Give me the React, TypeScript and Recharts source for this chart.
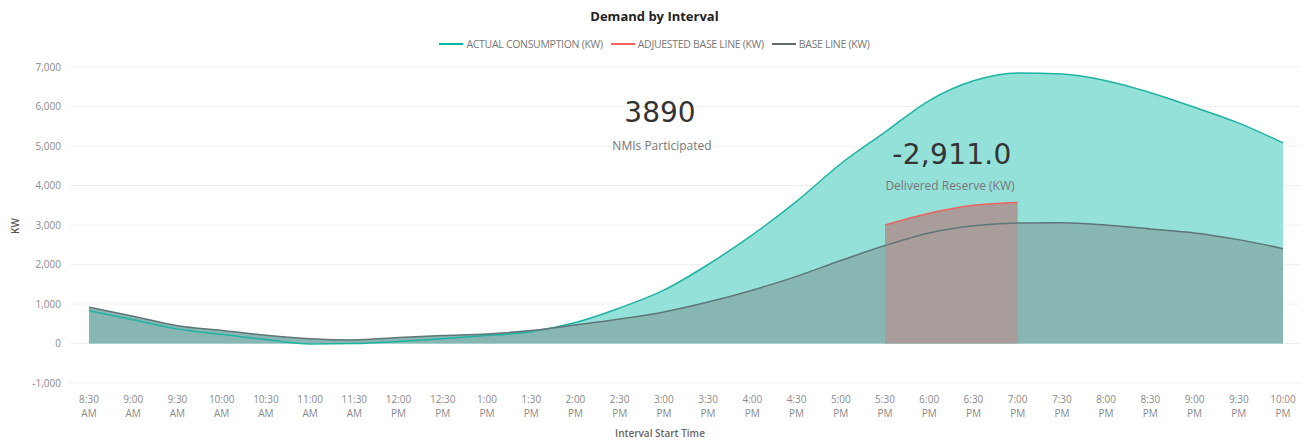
import React from 'react';
import { ComposedChart, Area, Line, XAxis, YAxis, CartesianGrid } from 'recharts';

const times = ['8:30 AM','9:00 AM','9:30 AM','10:00 AM','10:30 AM','11:00 AM','11:30 AM','12:00 PM','12:30 PM','1:00 PM','1:30 PM','2:00 PM','2:30 PM','3:00 PM','3:30 PM','4:00 PM','4:30 PM','5:00 PM','5:30 PM','6:00 PM','6:30 PM','7:00 PM','7:30 PM','8:00 PM','8:30 PM','9:00 PM','9:30 PM','10:00 PM'];
const actual = [830, 600, 370, 230, 100, -10, 0, 50, 120, 200, 300, 530, 900, 1350, 2000, 2750, 3600, 4550, 5350, 6150, 6650, 6850, 6820, 6650, 6350, 5980, 5580, 5080];
const baseLine = [920, 690, 450, 330, 210, 120, 90, 150, 200, 240, 330, 470, 620, 800, 1050, 1350, 1700, 2100, 2480, 2800, 2980, 3050, 3060, 3000, 2900, 2800, 2630, 2400];
const adjusted: (number | null)[] = [null, null, null, null, null, null, null, null, null, null, null, null, null, null, null, null, null, null, 3000, 3300, 3500, 3570, null, null, null, null, null, null];
const yTicks = [-1000, 0, 1000, 2000, 3000, 4000, 5000, 6000, 7000];

const data = times.map((t, i) => ({ t, actual: actual[i], base: baseLine[i], adj: adjusted[i] }));

const FONT = '"Open Sans", "Noto Sans", sans-serif';

const XTick = (props: any) => {
  const { x, y, payload } = props;
  const parts = String(payload.value).split(' ');
  return (
    <g>
      <text x={x} y={y + 12} textAnchor="middle" fontSize={10} fill="#8a8a8a" fontFamily={FONT}>{parts[0]}</text>
      <text x={x} y={y + 26} textAnchor="middle" fontSize={10} fill="#8a8a8a" fontFamily={FONT}>{parts[1]}</text>
    </g>
  );
};

const fmt = (v: number) => v.toLocaleString('en-US');

export default function App() {
  return (
    <div style={{ position: 'absolute', left: 0, top: 0, width: 1309, height: 443, background: '#fff', fontFamily: FONT }}>
      <div style={{ position: 'absolute', left: 0, width: 1309, top: 7, textAlign: 'center', fontSize: 13, fontWeight: 700, color: '#222' }}>Demand by Interval</div>
      <div style={{ position: 'absolute', left: 0, width: 1309, top: 37, display: 'flex', justifyContent: 'center', alignItems: 'center', fontSize: 10.5, color: '#777', letterSpacing: -0.3 }}>
        <span style={{ display: 'inline-block', width: 24, height: 2, background: '#01B8AA', marginRight: 3 }} />
        <span style={{ marginRight: 8 }}>ACTUAL CONSUMPTION (KW)</span>
        <span style={{ display: 'inline-block', width: 24, height: 2, background: '#FD625E', marginRight: 3 }} />
        <span style={{ marginRight: 8 }}>ADJUESTED BASE LINE (KW)</span>
        <span style={{ display: 'inline-block', width: 24, height: 2, background: '#5f6b6d', marginRight: 3 }} />
        <span>BASE LINE (KW)</span>
      </div>
      <div style={{ position: 'absolute', left: 4, top: 218, width: 24, height: 16, transform: 'rotate(-90deg)', textAlign: 'center', fontSize: 10, fontWeight: 600, color: '#555' }}>KW</div>
      <div style={{ position: 'absolute', left: 560, width: 200, top: 426, textAlign: 'center', fontSize: 10, fontWeight: 600, color: '#666' }}>Interval Start Time</div>
      <ComposedChart width={1309} height={443} data={data} margin={{ top: 67, right: 9, bottom: 0, left: 0 }} style={{ position: 'absolute', left: 0, top: 0 }}>
        <CartesianGrid vertical={false} stroke="#f0f0f0" />
        <XAxis dataKey="t" interval={0} tick={<XTick />} tickLine={false} axisLine={false} height={60} padding={{ left: 19, right: 17 }} />
        <YAxis domain={[-1000, 7000]} ticks={yTicks} tickFormatter={fmt} tickLine={false} axisLine={false} width={70} tickMargin={3} tick={{ fontSize: 10, fill: '#8a8a8a', fontFamily: FONT }} />
        <Area type="monotone" dataKey="actual" fill="#94e1da" fillOpacity={1} stroke="none" isAnimationActive={false} />
        <Area type="monotone" dataKey="base" fill="#88b7b3" fillOpacity={1} stroke="none" isAnimationActive={false} />
        <Area type="monotone" dataKey="adj" fill="#a99d9b" fillOpacity={1} stroke="none" isAnimationActive={false} />
        <Line type="monotone" dataKey="actual" stroke="#1fb3a3" strokeWidth={1.5} dot={false} isAnimationActive={false} />
        <Line type="monotone" dataKey="base" stroke="#5f7577" strokeWidth={1.5} dot={false} isAnimationActive={false} />
        <Line type="monotone" dataKey="adj" stroke="#f0625e" strokeWidth={1.5} dot={false} isAnimationActive={false} />
      </ComposedChart>
      <div style={{ position: 'absolute', left: 560, width: 200, top: 96, textAlign: 'center', fontSize: 28, color: '#333', fontFamily: '"DejaVu Sans", sans-serif' }}>3890</div>
      <div style={{ position: 'absolute', left: 560, width: 204, top: 137, textAlign: 'center', fontSize: 12, color: '#777' }}>NMIs Participated</div>
      <div style={{ position: 'absolute', left: 850, width: 204, top: 138, textAlign: 'center', fontSize: 28, color: '#333', fontFamily: '"DejaVu Sans", sans-serif', letterSpacing: 0.3 }}>-2,911.0</div>
      <div style={{ position: 'absolute', left: 850, width: 200, top: 177, textAlign: 'center', fontSize: 12, color: '#777' }}>Delivered Reserve (KW)</div>
    </div>
  );
}
